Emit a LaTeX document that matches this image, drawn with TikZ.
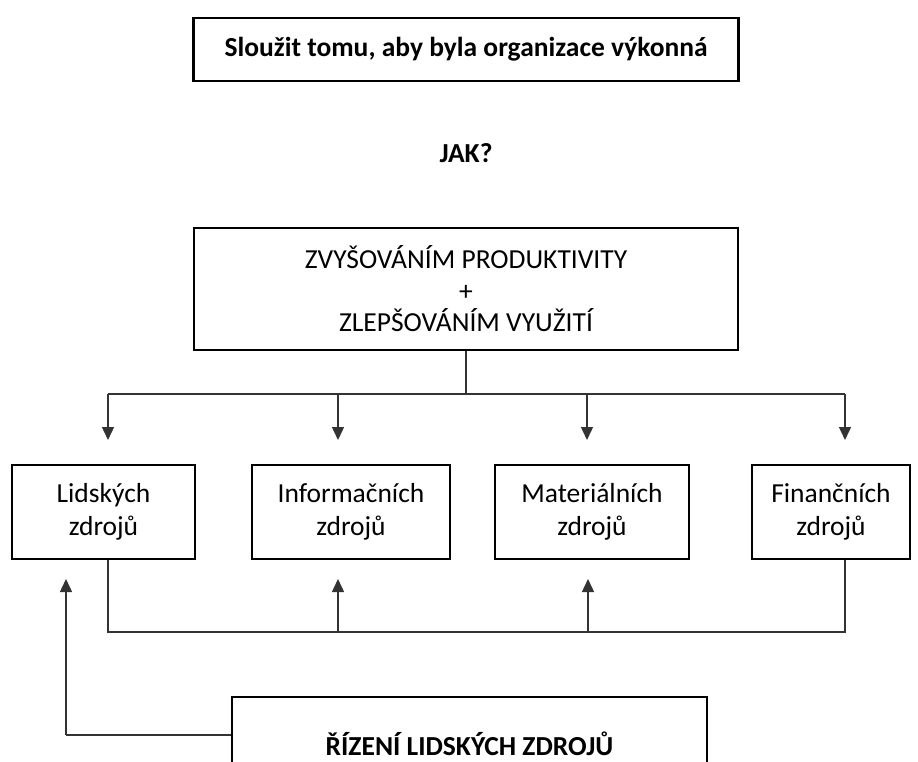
\documentclass[tikz,border=0pt]{standalone}
\usepackage{fontspec}
\setmainfont{Carlito}
\usetikzlibrary{arrows.meta}

\tikzset{
  box/.style={draw,line width=2.5pt,inner sep=0pt,align=center,
    font=\fontsize{27.5}{33}\selectfont},
  conn/.style={line width=1.4pt,black!80},
  arr/.style={conn,-{Triangle[width=12pt,length=13pt]}},
}

\begin{document}
\begin{tikzpicture}[x=1pt,y=-1pt]
  \clip (0,0) rectangle (918,762);
  \fill[white] (0,0) rectangle (918,762);
  \node[box,minimum width=545pt,minimum height=63pt,font=\fontsize{27.5}{33}\selectfont\bfseries]
    (goal) at (466,49.5) {Sloužit tomu, aby byla organizace výkonná};
  \node[font=\fontsize{27.5}{33}\selectfont\bfseries] (jak) at (466,153) {JAK?};
  \node[box,minimum width=544pt,minimum height=122pt,font=\fontsize{27.5}{31.5}\selectfont]
    (prod) at (466,289) {ZVYŠOVÁNÍM PRODUKTIVITY\\+\\ZLEPŠOVÁNÍM VYUŽITÍ};
  \node[box,minimum width=183pt,minimum height=94pt] (lid) at (103.5,512) {Lidských\\zdrojů};
  \node[box,minimum width=198pt,minimum height=94pt] (inf) at (351,512) {Informačních\\zdrojů};
  \node[box,minimum width=194pt,minimum height=94pt] (mat) at (592,512) {Materiálních\\zdrojů};
  \node[box,minimum width=158pt,minimum height=94pt] (fin) at (831,512) {Finančních\\zdrojů};
  \node[box,minimum width=475pt,minimum height=94pt,font=\fontsize{27.5}{33}\selectfont\bfseries]
    (rlz) at (469.5,744) {ŘÍZENÍ LIDSKÝCH ZDROJŮ};
  % rozvetveni dolu
  \coordinate (bus) at (466,394);
  \coordinate (d1) at (108,394);
  \coordinate (d2) at (338,394);
  \coordinate (d3) at (587,394);
  \coordinate (d4) at (845,394);
  \draw[conn] (prod.south) -- (bus);
  \draw[conn] (d1) -- (d4);
  \draw[arr] (d1) -- ++(0,46);
  \draw[arr] (d2) -- ++(0,46);
  \draw[arr] (d3) -- ++(0,46);
  \draw[arr] (d4) -- ++(0,46);
  % zpetna vazba
  \coordinate (u1) at (108,632);
  \coordinate (u2) at (338,632);
  \coordinate (u3) at (588,632);
  \coordinate (u4) at (845,632);
  \draw[conn] (lid.south -| u1) -- (u1) -- (u4) -- (fin.south -| u4);
  \draw[arr] (u2) -- ++(0,-53);
  \draw[arr] (u3) -- ++(0,-53);
  % rizeni lidskych zdroju
  \coordinate (rl) at (66,735);
  \draw[conn] (rlz.west |- rl) -- (rl);
  \draw[arr] (rl) -- (66,579);
\end{tikzpicture}
\end{document}
